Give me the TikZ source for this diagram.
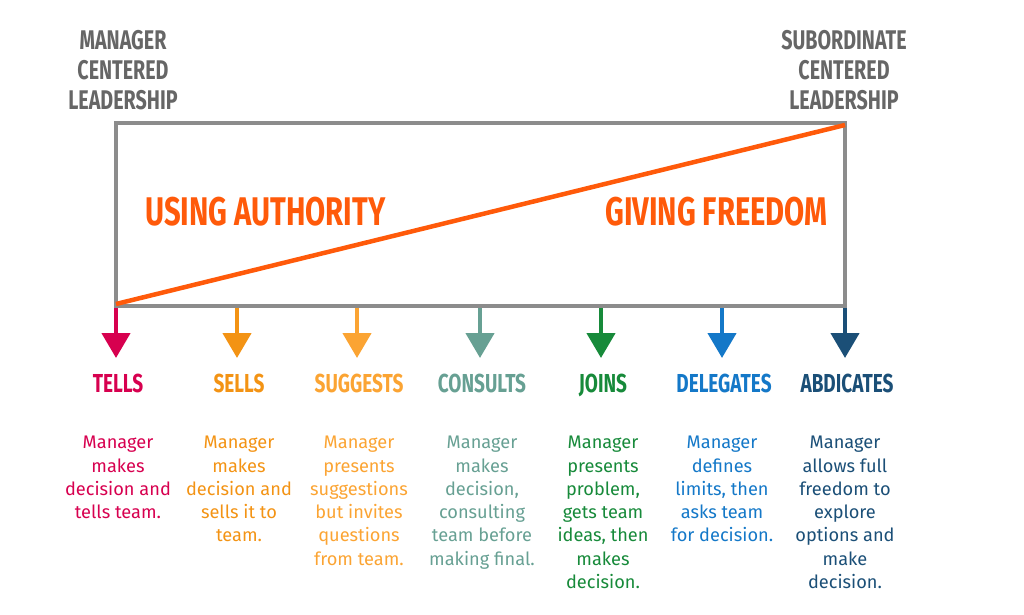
\documentclass[tikz,border=0pt]{standalone}
\usepackage{fontspec}
\setmainfont{Fira Sans}
\newfontfamily\headfont[FakeStretch=0.73]{Fira Sans}
\usetikzlibrary{arrows.meta}
\definecolor{cgray}{HTML}{8C8C8C}
\definecolor{ctitle}{HTML}{666666}
\definecolor{corange}{HTML}{FF5A0A}
\definecolor{ctells}{HTML}{D7004F}
\definecolor{csells}{HTML}{F39314}
\definecolor{csugg}{HTML}{FBA433}
\definecolor{ccons}{HTML}{67A093}
\definecolor{cjoins}{HTML}{178A3A}
\definecolor{cdeleg}{HTML}{1478C8}
\definecolor{cabd}{HTML}{1B4F77}
\begin{document}
\begin{tikzpicture}[x=1pt,y=-1pt,
  title/.style={anchor=north,inner sep=0pt,align=center,text=ctitle,font=\headfont\bfseries\fontsize{27}{30}\selectfont},
  big/.style={inner sep=0pt,text=corange,font=\headfont\bfseries\fontsize{40}{44}\selectfont},
  head/.style={anchor=north,inner sep=0pt,font=\headfont\bfseries\fontsize{26}{30}\selectfont},
  desc/.style={anchor=north,inner sep=0pt,align=center,font=\fontsize{18.2}{23.3}\selectfont},
  arr/.style={line width=4.5pt,-{Triangle[width=28pt,length=25pt]}}]
\useasboundingbox (0,0) rectangle (1024,614);
\draw[cgray,line width=4.5pt] (116,123) rectangle (845,306);
\coordinate (bl) at (116,304);
\coordinate (tr) at (845,125);
\draw[corange,line width=4.5pt] (bl) -- (tr);
\node[title] (mgr) at (123,30) {MANAGER\\CENTERED\\LEADERSHIP};
\node[title] (sub) at (844,30) {SUBORDINATE\\CENTERED\\LEADERSHIP};
\node[big,anchor=north west] (auth) at (145,197) {USING AUTHORITY};
\node[big,anchor=north east] (free) at (828,197) {GIVING FREEDOM};
\foreach \x/\c/\h/\n [count=\i] in {
  116/ctells/TELLS/tells,
  237/csells/SELLS/sells,
  357/csugg/SUGGESTS/sugg,
  480/ccons/CONSULTS/cons,
  601/cjoins/JOINS/joins,
  722/cdeleg/DELEGATES/deleg,
  845/cabd/ABDICATES/abd}{
  \coordinate (s\n) at (\x,308);
  \coordinate (e\n) at (\x,358);
  \draw[arr,\c] (s\n) -- (e\n);
  \node[head,text=\c] (h\n) at (\x+2,374) {\h};
}
\node[desc,text=ctells] (dtells) at (118,436) {Manager\\makes\\decision and\\tells team.};
\node[desc,text=csells] (dsells) at (239,436) {Manager\\makes\\decision and\\sells it to\\team.};
\node[desc,text=csugg] (dsugg) at (359,436) {Manager\\presents\\suggestions\\but invites\\questions\\from team.};
\node[desc,text=ccons] (dcons) at (482,436) {Manager\\makes\\decision,\\consulting\\team before\\making final.};
\node[desc,text=cjoins] (djoins) at (603,436) {Manager\\presents\\problem,\\gets team\\ideas, then\\makes\\decision.};
\node[desc,text=cdeleg] (ddeleg) at (722,436) {Manager\\defines\\limits, then\\asks team\\for decision.};
\node[desc,text=cabd] (dabd) at (845,436) {Manager\\allows full\\freedom to\\explore\\options and\\make\\decision.};
\end{tikzpicture}
\end{document}
